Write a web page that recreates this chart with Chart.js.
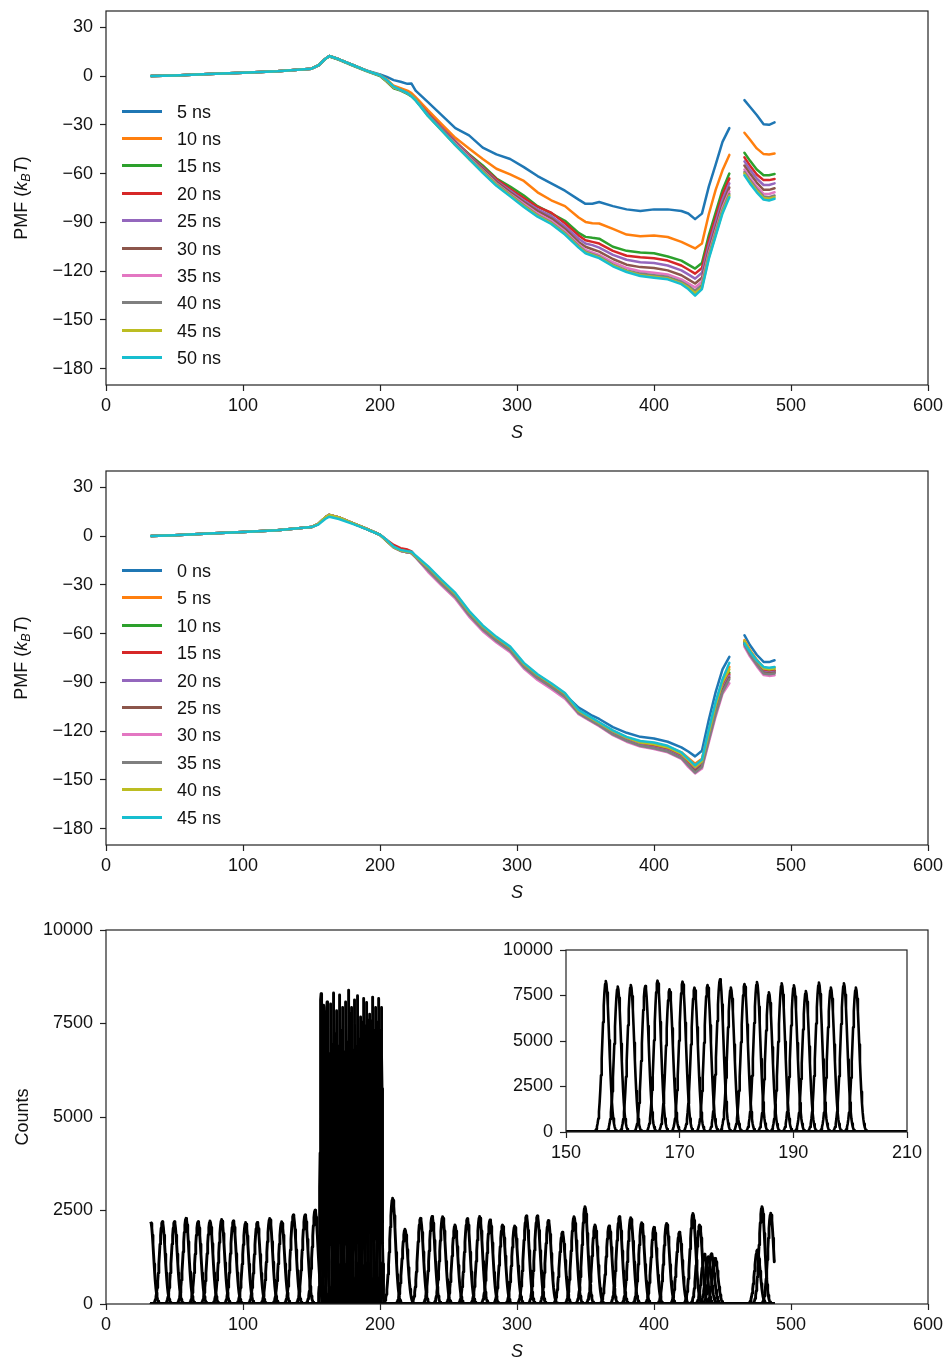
<!DOCTYPE html>
<html><head><meta charset="utf-8">
<script src="https://cdn.jsdelivr.net/npm/chart.js@4.4.1/dist/chart.umd.min.js"></script>
<style>
html,body{margin:0;padding:0;width:947px;height:1358px;overflow:hidden;background:#fff;font-family:"Liberation Sans",Arial,sans-serif;}
canvas{position:absolute;}
.ytitle{position:absolute;font-size:18px;color:#111;white-space:nowrap;transform:translate(-50%,-50%) rotate(-90deg);}
.ytitle sub{font-size:12.5px;vertical-align:-3px;}
.legend{position:absolute;left:122px;top:0;font-size:18px;color:#111;}
.l{position:absolute;left:0;width:40px;height:3px;}
.t{position:absolute;left:55px;line-height:18px;white-space:nowrap;}
</style></head>
<body>
<canvas id="c1" width="947" height="450" style="left:0;top:0"></canvas>
<canvas id="c2" width="947" height="450" style="left:0;top:460px"></canvas>
<canvas id="c3" width="947" height="450" style="left:0;top:919px"></canvas>
<canvas id="c4" width="460" height="230" style="left:470px;top:940px"></canvas>
<div class="ytitle" style="left:22px;top:198px">PMF (<i>k<sub>B</sub>T</i>)</div>
<div class="ytitle" style="left:22px;top:658px">PMF (<i>k<sub>B</sub>T</i>)</div>
<div class="ytitle" style="left:22px;top:1117px">Counts</div>
<div class="legend" id="lg1"></div>
<div class="legend" id="lg2"></div>
<script>
// ---------- data ----------
const sGrid = [33,50,75,100,125,150,155,160,163,170,180,190,200,205,210,215,220,223,226,235,245,255,265,275,285,295,305,315,325,335,345,350,355,360,370,380,390,400,410,420,425,430,435,440,445,450,455,460,466,470,475,480,484,488];

const topLabels = ['5 ns','10 ns','15 ns','20 ns','25 ns','30 ns','35 ns','40 ns','45 ns','50 ns'];
const t5  = [0,0.3,1.2,2.0,3.0,4.5,6.5,10.5,12.3,10.3,6.8,3.5,1.0,-0.5,-2.5,-3.5,-4.8,-4.6,-9,-16,-24,-32,-36.5,-44,-48.2,-51,-56,-61.5,-66,-70.5,-76,-78.6,-78.5,-77.5,-80,-82,-83,-82,-82,-83,-84.5,-88,-84.6,-68,-54.5,-40.5,-32,null,-14.8,-18.9,-24,-29.6,-30,-28.5];
const t10 = [0,0.3,1.2,2.0,3.0,4.5,6.5,10.5,12.3,10.3,6.8,3.3,0.5,-2,-6,-7.5,-9,-10.5,-13,-21,-29.5,-38,-44.5,-51,-57,-60.5,-64.5,-71.5,-76.4,-80,-87,-89.7,-90.5,-90.7,-94,-97.5,-98.5,-98,-99,-102,-104,-106,-103,-85,-70,-58,-48.5,null,-34.9,-39,-44.5,-48,-48.3,-47.6];
const t15 = [0,0.3,1.2,2.0,3.0,4.5,6.5,10.5,12.0,10.0,6.5,3.0,0,-3.5,-7.6,-9,-11,-12.5,-15,-23.5,-32,-40.5,-48,-55,-63,-68,-73.5,-80,-84.5,-89,-96.5,-98.9,-99.5,-100,-105,-107.5,-108.5,-109,-111,-113.5,-116,-118.4,-115,-98,-84,-70,-60,null,-47.2,-52,-57.5,-61,-61,-60.3];
const t20 = [0,0.3,1.2,2.0,3.0,4.5,6.5,10.5,12.3,10.3,6.8,3.3,0.5,-3,-7,-8.5,-10.5,-12,-14.5,-23,-31.5,-40,-48.5,-56,-63.5,-69.5,-75,-80.5,-84,-90.5,-98,-101,-102,-103,-107.5,-110.5,-111.5,-112,-113.5,-116.5,-119,-121.5,-118,-101,-87,-73,-63,null,-50,-55,-60.5,-64,-64,-63.3];
const t25 = [0,0.3,1.2,2.0,3.0,4.5,6.5,10.5,12.3,10.3,6.8,3.3,0.5,-3,-7,-8.5,-10.5,-12,-14.5,-23.5,-32,-40.5,-49,-56.5,-64.5,-70.5,-76.5,-82,-86,-92.5,-100,-103,-104,-105.5,-110,-113,-114.5,-115,-116.5,-119.5,-122,-124.6,-121,-104,-90,-76,-66,null,-52.5,-57.5,-63,-67,-67,-66];
const t30 = [0,0.3,1.2,2.0,3.0,4.5,6.5,10.5,12.3,10.3,6.8,3.3,0.5,-3,-7,-8.5,-10.5,-12,-14.5,-23.5,-32.5,-41,-49.5,-57,-65,-71.5,-77.5,-83,-87.5,-94,-102,-105,-106.5,-108,-112.5,-116,-117.5,-118,-119.5,-122.5,-125,-127.6,-124,-107,-93,-79,-68.5,null,-55,-60,-65.5,-70,-70,-69];
const t35 = [0,0.3,1.2,2.0,3.0,4.5,6.5,10.5,12.3,10.3,6.8,3.3,0.5,-3,-7,-8.5,-10.5,-12,-14.5,-24,-33,-41.5,-50,-58,-66,-72.5,-78.5,-84.5,-89,-95.5,-103.5,-107,-108.5,-110,-114.5,-118,-120,-121,-122,-125,-127.5,-130,-126.5,-109,-95,-81,-71,null,-57.5,-62.5,-68,-72.5,-72.5,-71.5];
const t40 = [0,0.3,1.2,2.0,3.0,4.5,6.5,10.5,12.3,10.3,6.8,3.3,0.5,-3,-7,-8.5,-10.5,-12,-14.5,-24,-33,-42,-50.5,-58.5,-66.5,-73,-79.5,-85.5,-90,-96.5,-104.5,-108,-109.5,-111,-116,-119.5,-121.5,-122.5,-123.5,-126.5,-129,-132,-128.5,-110.5,-96.5,-82.5,-72.5,null,-59,-64,-69.5,-74,-74.5,-73.5];
const t45 = [0,0.3,1.2,2.0,3.0,4.5,6.5,10.5,12.3,10.3,6.8,3.3,0.5,-3,-7,-8.5,-10.5,-12,-14.5,-24.5,-33.5,-42.5,-51,-59,-67,-73.5,-80,-86,-90.5,-97,-105,-108.5,-110,-111.5,-116.5,-120,-122.5,-123.5,-124.5,-127.5,-130,-133.5,-130,-111.5,-97.5,-83.5,-73.5,null,-60,-65,-70.5,-75,-75.5,-74.5];
const t50 = [0,0.3,1.2,2.0,3.0,4.5,6.5,10.5,12.3,10.3,6.8,3.3,0.5,-2.5,-6.5,-8.5,-10.5,-12.5,-15,-24.5,-33.5,-42.5,-51,-59.5,-67.5,-74,-80.5,-86.5,-91,-97.5,-105.5,-109,-110.5,-112,-117,-120.5,-123,-124,-125,-128,-131,-135,-131,-112.5,-98.5,-84.5,-74.5,null,-61,-66,-71.5,-76,-76.5,-75.5];

const midLabels = ['0 ns','5 ns','10 ns','15 ns','20 ns','25 ns','30 ns','35 ns','40 ns','45 ns'];
const m0  = [0,0.5,1.5,2.5,3.5,5.5,7.5,11.5,13,11.5,8,4.5,0.8,-3,-6.6,-8.6,-9.3,-9.6,-12.5,-19.5,-28,-36,-47,-56,-63,-69,-79,-86,-91.5,-97.5,-105.5,-108,-110.5,-112.5,-117.5,-121,-123.5,-124.5,-126.5,-130,-132.5,-135.5,-132,-113,-96,-82,-74.3,null,-61,-67,-73,-77.4,-77.5,-76.4];
const m5  = [0,0.5,1.5,2.5,3.5,5.5,7.5,11.5,13,11.5,8,4.5,0.8,-3,-6.8,-8.8,-9.5,-10,-12.8,-20,-28.5,-36.5,-47.5,-56.5,-63.5,-69.5,-79.5,-86.5,-92,-98,-107.5,-110,-112.5,-115,-120,-124,-126.5,-127.5,-129.5,-133,-136.5,-140,-137,-120,-103,-89,-80.5,null,-64,-70,-76,-81,-81.5,-81];
const m10 = [0,0.5,1.5,2.5,3.5,5.5,7.5,11.5,13,11.5,8,4.5,0.8,-3.2,-7,-9,-10,-10.5,-13,-20,-28.5,-36.5,-47.5,-56.5,-63.5,-69.5,-79.5,-86.5,-92,-98,-108.5,-111,-113.5,-116,-121,-125,-128,-129,-131,-135,-139,-142.5,-139,-122,-106,-92,-84,null,-65,-71,-77,-82,-83,-82.5];
const m15 = [0,0.5,1.5,2.5,3.5,5.5,7.5,11.5,13,11.5,8,4.5,0.8,-2.5,-5.5,-7.5,-8.3,-9.5,-12.5,-20.5,-29,-37,-48,-57,-64,-70,-80,-87,-92.5,-98.5,-108.5,-111,-113.5,-116,-121,-125,-128,-129.5,-131.5,-135.5,-139.5,-143,-139.5,-123,-107,-93,-85,null,-65.5,-71.5,-77.5,-83,-83.5,-83];
const m20 = [0,0.5,1.5,2.5,3.5,5.5,7.5,11.5,13,11.5,8,4.5,0.8,-3,-7,-9,-10,-10.5,-13,-21,-29.5,-37.5,-48.5,-57.5,-64.5,-70.5,-80.5,-87.5,-93,-99,-109,-111.5,-114,-116.5,-121.5,-125.5,-128.5,-130,-132,-136,-140.5,-144,-140.5,-124,-108,-94,-86,null,-66,-72,-78,-83.5,-84,-83.5];
const m25 = [0,0.5,1.5,2.5,3.5,5.5,7.5,11.5,13,11.5,8,4.5,0.8,-3,-7,-9,-10,-10.5,-13,-21,-29.5,-37.5,-48.5,-57.5,-64.5,-70.5,-80.5,-87.5,-93,-99,-109,-111.5,-114,-116.5,-122,-126,-129,-130.5,-132.5,-136.5,-141,-144.5,-141,-124.5,-108.5,-95,-87,null,-66.5,-72.5,-78.5,-84,-84.5,-84];
const m30 = [0,0.5,1.5,2.5,3.5,5.5,7.5,11.5,13,11.5,8,4.5,0.8,-3,-7,-9,-10,-10.5,-13,-22,-30.5,-38.5,-49.5,-58.5,-65.5,-71.5,-81.5,-88.5,-94,-100,-109.5,-112,-114.5,-117,-122.5,-126.5,-129.5,-131,-133,-137,-142,-146,-143,-127,-111,-97,-90.5,null,-68,-74,-80,-85.5,-86,-85.6];
const m35 = [0,0.5,1.5,2.5,3.5,5.5,7.5,11.5,13,11.5,8,4.5,0.8,-3,-7,-9,-10,-10.5,-13,-21,-29.5,-37.5,-48.5,-57.5,-64.5,-70.5,-80.5,-87.5,-93,-99,-109,-111.5,-114,-116.5,-122,-126,-129,-130.5,-132.5,-136.5,-141,-145.5,-142,-125.5,-109.5,-96,-88,null,-67,-73,-79,-84.5,-85,-84.5];
const m40 = [0,0.5,1.5,2.5,3.5,5.5,7.5,11.5,13,11.5,8,4.5,0.8,-3,-6.8,-8.8,-9.6,-10,-12.5,-19,-27.5,-35.5,-46.5,-55.5,-62.5,-68.5,-78.5,-85.5,-91,-97,-107.5,-110,-112.5,-115,-120,-124,-127,-128,-130,-134,-138,-142,-138.5,-121,-104,-90,-82,null,-64.5,-70.5,-76.5,-81.5,-82,-81.5];
const m45 = [0,0.5,1.5,2.5,3.5,5.5,7,10.5,11.9,10.5,7.5,4.3,0.8,-2.5,-6.5,-8.5,-9.3,-9.6,-12,-18.5,-27,-35,-46,-55,-62,-68,-78,-85,-90.5,-96.5,-107,-109.5,-112,-114.5,-119.5,-123.5,-126,-127,-129,-133,-137,-141,-137.5,-119,-102,-88,-78,null,-66,-71,-76.5,-80.5,-81,-80.5];

const pmfTicks = [30,0,-30,-60,-90,-120,-150,-180];
const sTicks = [0,100,200,300,400,500,600];

// histogram windows (umbrella sampling)
const histRange = [32.6, 487.8];
const lowCenters = [32.6,41.1,49.9,58.4,67.2,75.9,84.4,92.9,101.9,110.4,119.5,128.2,136.7,145.3,152.6,
  209.2,218.2,229.5,238,245.7,254.7,263.7,272.7,280.3,289.4,298.3,306.8,314.8,322.9,333.1,341.6,349.6,356.9,
  367.2,374.7,383,391,400,409.2,418.5,428.4,433.2,436.8,439.6,441.9,444.6,475.4,478.8,485.2];
const lowHeights = [2200,2200,2200,2290,2200,2220,2260,2220,2180,2180,2290,2200,2380,2380,2510,
  2826,2000,2290,2340,2335,2112,2280,2340,2246,2112,2085,2353,2353,2230,1917,2335,2602,2112,
  2085,2335,2308,2174,2050,2157,1917,2420,2112,1330,1260,1340,1220,1444,2600,2425];
const lowSigma = 2.1;
const denseCenters = [157.0,159.1,161.4,163.95,166.1,168.2,170.5,172.6,174.9,177.1,179.0,181.4,183.6,185.7,187.95,190.1,192.2,194.5,196.6,198.9,201.0];
const denseHeights = [8297,7986,8078,8023,8316,7840,8261,7931,8078,8390,7931,8133,8243,7675,8170,8060,7748,8206,7931,8170,7931];
const denseSigma = 0.6;
const countTicks = [0,2500,5000,7500,10000];
const insetXTicks = [150,170,190,210];

// ---------- drawing ----------
const colors = ['#1f77b4','#ff7f0e','#2ca02c','#d62728','#9467bd','#8c564b','#e377c2','#7f7f7f','#bcbd22','#17becf'];
const FONT = {family:'"Liberation Sans", Arial, sans-serif', size:18};
const INK = '#111';

const framePlugin = {
  id:'frame',
  beforeDatasetsDraw(chart, args, opts){
    if(!opts.fill) return;
    const a = chart.chartArea, c = chart.ctx;
    c.save(); c.fillStyle='#fff'; c.fillRect(a.left,a.top,a.right-a.left,a.bottom-a.top); c.restore();
  },
  afterDatasetsDraw(chart){
    const a = chart.chartArea, c = chart.ctx;
    c.save(); c.strokeStyle='#222'; c.lineWidth=1.2;
    c.strokeRect(a.left,a.top,a.right-a.left,a.bottom-a.top); c.restore();
  }
};

function fmtMinus(v){ return v<0 ? '\u2212'+Math.abs(v) : String(v); }

function axisX(ticks, min, max, height, title){
  return {
    type:'linear', min, max,
    afterBuildTicks: s => { s.ticks = ticks.map(v=>({value:v})); },
    afterFit: s => { s.height = height; s.paddingLeft = 0; s.paddingRight = 0; s.paddingTop = 0; s.paddingBottom = 0; },
    ticks:{font:FONT, color:INK, padding:4, autoSkip:false, maxRotation:0, callback:v=>String(v)},
    grid:{drawOnChartArea:false, drawTicks:true, tickLength:6, tickColor:'#222', tickWidth:1.2},
    border:{display:false},
    title: title ? {display:true, text:'S', font:{family:FONT.family, size:18, style:'italic', lineHeight:1}, color:INK, padding:{top:0,bottom:8}} : {display:false}
  };
}
function axisY(ticks, min, max, width, fmt){
  return {
    type:'linear', min, max,
    afterBuildTicks: s => { s.ticks = ticks.map(v=>({value:v})); },
    afterFit: s => { s.width = width; s.paddingTop = 0; s.paddingBottom = 0; s.paddingLeft = 0; s.paddingRight = 0; },
    ticks:{font:FONT, color:INK, padding:7, callback:fmt},
    grid:{drawOnChartArea:false, drawTicks:true, tickLength:6, tickColor:'#222', tickWidth:1.2},
    border:{display:false}
  };
}

function buildLegend(legendId, labels, firstCenter){
  const lg = document.getElementById(legendId);
  lg.innerHTML = labels.map((l,i)=>{
    const cy = firstCenter + 27.4*i;
    return `<span class="l" style="top:${Math.round(cy-1.5)}px;background:${colors[i]}"></span>`+
           `<span class="t" style="top:${(cy-8.5).toFixed(1)}px">${l}</span>`;
  }).join('');
}

function pmfChart(id, series, labels){
  const datasets = series.map((vals,i)=>({
    label: labels[i],
    data: sGrid.map((s,j)=>({x:s, y:vals[j]})),
    borderColor: colors[i], backgroundColor: colors[i],
    borderWidth: 2.5, pointRadius: 0, fill:false, spanGaps:false, tension:0,
    borderJoinStyle:'round', borderCapStyle:'round',
    order: series.length-1-i
  }));
  new Chart(document.getElementById(id), {
    type:'line',
    data:{datasets},
    options:{
      responsive:false, animation:false,
      layout:{padding:{left:0,right:19,top:11,bottom:0}},
      plugins:{legend:{display:false}, tooltip:{enabled:false}, frame:{fill:false}},
      scales:{
        x: axisX(sTicks, 0, 600, 65, true),
        y: axisY(pmfTicks, -190, 40, 106, fmtMinus)
      }
    },
    plugins:[framePlugin]
  });
}

pmfChart('c1', [t5,t10,t15,t20,t25,t30,t35,t40,t45,t50], topLabels);
pmfChart('c2', [m0,m5,m10,m15,m20,m25,m30,m35,m40,m45], midLabels);
buildLegend('lg1', topLabels, 111);
buildLegend('lg2', midLabels, 570.5);

function peakCurve(c, h, sd){
  const lo = histRange[0], hi = histRange[1];
  const a = Math.max(lo, c-4*sd), b = Math.min(hi, c+4*sd);
  const g = x => h*Math.exp(-0.5*((x-c)/sd)*((x-c)/sd));
  const pts = [];
  if (a > lo) pts.push({x:lo, y:0});
  const step = sd/5;
  for (let x=a; x<b; x+=step) pts.push({x, y:g(x)});
  pts.push({x:b, y:g(b)});
  if (b < hi) pts.push({x:hi, y:0});
  return pts;
}
function histDatasets(includeLow, width){
  const ds = [];
  if (includeLow) lowCenters.forEach((c,i)=>ds.push({data:peakCurve(c, lowHeights[i], lowSigma)}));
  denseCenters.forEach((c,i)=>ds.push({data:peakCurve(c, denseHeights[i], denseSigma)}));
  return ds.map(d=>Object.assign(d,{borderColor:'#000', borderWidth:width, pointRadius:0, fill:false, tension:0, borderJoinStyle:'round'}));
}

new Chart(document.getElementById('c3'), {
  type:'line',
  data:{datasets:histDatasets(true, 2.9)},
  options:{
    responsive:false, animation:false,
    layout:{padding:{left:0,right:19,top:11,bottom:0}},
    plugins:{legend:{display:false}, tooltip:{enabled:false}, frame:{fill:false}},
    scales:{
      x: axisX(sTicks, 0, 600, 65, true),
      y: axisY(countTicks, 0, 10000, 106, v=>String(v))
    }
  },
  plugins:[framePlugin]
});

new Chart(document.getElementById('c4'), {
  type:'line',
  data:{datasets:histDatasets(false, 2.6)},
  options:{
    responsive:false, animation:false,
    layout:{padding:{left:0,right:23,top:10,bottom:0}},
    plugins:{legend:{display:false}, tooltip:{enabled:false}, frame:{fill:true}},
    scales:{
      x: axisX(insetXTicks, 150, 210, 38, false),
      y: axisY(countTicks, 0, 10000, 96, v=>String(v))
    }
  },
  plugins:[framePlugin]
});
</script>
</body></html>
